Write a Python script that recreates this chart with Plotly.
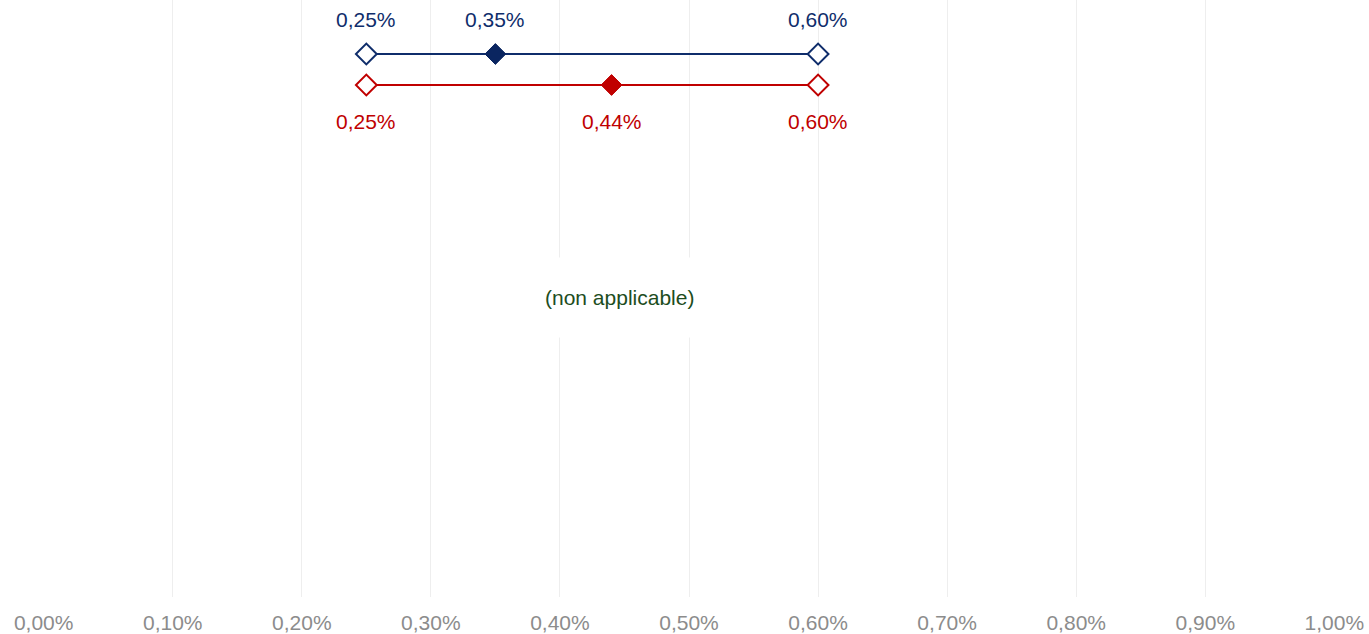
import plotly.graph_objects as go

# Data (values in percent)
series_names = ["Série 1", "Série 2"]
low_vals = [0.25, 0.25]
mid_vals = [0.35, 0.44]
high_vals = [0.60, 0.60]
row_pos = [1, 2]
line_colors = ["#0f2d6b", "#c00000"]
fill_colors = ["#0a2560", "#c00000"]
tick_vals = [0.0, 0.1, 0.2, 0.3, 0.4, 0.5, 0.6, 0.7, 0.8, 0.9, 1.0]
tick_text = ["0,00%", "0,10%", "0,20%", "0,30%", "0,40%", "0,50%", "0,60%", "0,70%", "0,80%", "0,90%", "1,00%"]
note_text = "(non applicable)"

FONT = "Liberation Sans, Arial, sans-serif"

def fmt(v):
    return f"{v:.2f}".replace(".", ",") + "%"

fig = go.Figure()
annotations = []
label_shift = [34, -37]
for i in range(len(series_names)):
    y = row_pos[i]
    fig.add_trace(go.Scatter(
        x=[low_vals[i], high_vals[i]], y=[y, y], mode="lines",
        line=dict(color=line_colors[i], width=2), showlegend=False, hoverinfo="skip"))
    fig.add_trace(go.Scatter(
        x=[low_vals[i], high_vals[i]], y=[y, y], mode="markers",
        marker=dict(symbol="diamond", size=16, color="white",
                    line=dict(color=line_colors[i], width=2)),
        showlegend=False))
    fig.add_trace(go.Scatter(
        x=[mid_vals[i]], y=[y], mode="markers",
        marker=dict(symbol="diamond", size=16, color=fill_colors[i],
                    line=dict(color=fill_colors[i], width=1)),
        showlegend=False))
    for v in [low_vals[i], mid_vals[i], high_vals[i]]:
        annotations.append(dict(
            x=v, y=y, xref="x", yref="y", text=fmt(v), showarrow=False,
            yshift=label_shift[i], font=dict(family=FONT, size=21, color=line_colors[i])))

annotations.append(dict(
    x=0.446, y=8.87, xref="x", yref="y", text=note_text, showarrow=False,
    bgcolor="white", borderpad=28,
    font=dict(family=FONT, size=21, color="#1d4d1d")))

fig.update_layout(
    width=1369, height=634,
    margin=dict(l=43, r=34, t=0, b=37),
    plot_bgcolor="white", paper_bgcolor="white",
    annotations=annotations,
    xaxis=dict(range=[-0.0005, 1.0005], tickvals=tick_vals, ticktext=tick_text,
               showgrid=True, gridcolor="#eeeeee", gridwidth=1, zeroline=False,
               showline=False, ticks="", ticklabelstandoff=11,
               tickfont=dict(family=FONT, size=21, color="#8c8c8c")),
    yaxis=dict(range=[18.52, -0.742], showgrid=False, zeroline=False,
               showticklabels=False, ticks=""),
)

fig.write_html("out.html", config={"displayModeBar": False},
               post_script="document.body.style.margin='0';")
